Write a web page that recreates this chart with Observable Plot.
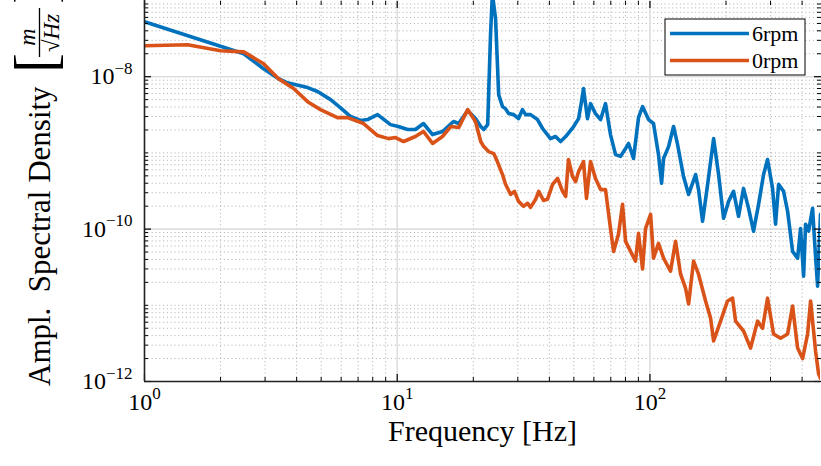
<!DOCTYPE html>
<html><head><meta charset="utf-8">
<script src="https://cdn.jsdelivr.net/npm/d3@7"></script>
<script src="https://cdn.jsdelivr.net/npm/@observablehq/plot@0.6"></script>
<style>body{margin:0;background:#fff} svg{display:block}</style>
</head><body><div id="chart"></div>
<script>
// ---- data ----
const seriesNames = ["6rpm", "0rpm"];
const seriesColors = ["#0072BD", "#D95319"];

const freq6rpm = [1.00, 2.47, 2.96, 3.39, 3.68, 4.42, 4.84, 5.45, 5.97, 6.54, 7.16, 7.63, 8.36, 9.41, 10.1, 11.0, 11.8, 12.7, 13.8, 15.1, 16.7, 17.5, 19.0, 20.4, 21.4, 22.0, 22.8, 23.4, 23.8, 24.5, 25.2, 26.1, 26.8, 27.6, 28.9, 30.2, 31.3, 32.2, 33.7, 35.9, 37.6, 40.4, 42.3, 44.3, 46.4, 49.9, 52.2, 53.6, 54.6, 56.6, 58.2, 60.9, 63.8, 66.7, 69.8, 73.1, 76.5, 80.1, 82.3, 86.1, 90.1, 93.5, 98.7, 103.3, 108.1, 111.2, 113.2, 118.5, 124.0, 128.6, 135.8, 142.2, 151.6, 155.7, 161.5, 169.1, 178.6, 186.9, 195.6, 204.7, 214.2, 224.2, 234.6, 245.6, 257.0, 269.0, 281.6, 292.0, 305.6, 314.1, 322.9, 337.9, 350.5, 366.8, 383.9, 394.5, 405.5, 412.9, 424.3, 440.1, 448.2, 460.6, 473];
const asd6rpm = [5.25e-8, 2.0e-8, 1.27e-8, 9.4e-9, 8.3e-9, 7.2e-9, 6.4e-9, 5.0e-9, 3.9e-9, 3.0e-9, 2.66e-9, 2.74e-9, 3.18e-9, 2.35e-9, 2.22e-9, 2.03e-9, 2.03e-9, 2.43e-9, 1.74e-9, 1.91e-9, 2.58e-9, 2.43e-9, 3.59e-9, 2.82e-9, 2.22e-9, 2.03e-9, 2.35e-9, 3.55e-8, 1.22e-7, 5.74e-8, 5.81e-9, 4.05e-9, 3.81e-9, 3.28e-9, 3.18e-9, 2.82e-9, 3.70e-9, 3.18e-9, 3.18e-9, 2.74e-9, 2.09e-9, 1.54e-9, 1.64e-9, 1.41e-9, 1.64e-9, 2.22e-9, 2.82e-9, 4.71e-9, 6.97e-9, 2.82e-9, 4.43e-9, 3.28e-9, 2.74e-9, 4.43e-9, 1.74e-9, 9.5e-10, 9.0e-10, 1.14e-9, 1.33e-9, 8.45e-10, 2.9e-9, 4.05e-9, 2.74e-9, 2.43e-9, 9.5e-10, 4.0e-10, 8.45e-10, 1.21e-9, 2.22e-9, 1.29e-9, 4.9e-10, 2.85e-10, 5.2e-10, 3.3e-10, 1.27e-10, 3.86e-10, 1.54e-9, 5.2e-10, 1.39e-10, 2.31e-10, 3.13e-10, 1.47e-10, 3.42e-10, 1.87e-10, 9.4e-11, 2.11e-10, 5.2e-10, 8.2e-10, 3.42e-10, 1.16e-10, 3.86e-10, 3.13e-10, 1.71e-10, 5.1e-11, 4.15e-11, 1.02e-10, 2.41e-11, 1.16e-10, 9.4e-11, 1.87e-10, 6.9e-11, 1.78e-11, 1.56e-10];

const freq0rpm = [1.00, 1.48, 2.00, 2.47, 2.96, 3.39, 3.89, 4.42, 4.97, 5.80, 6.36, 7.36, 8.36, 9.24, 9.85, 10.6, 11.8, 12.7, 13.8, 15.1, 16.3, 17.5, 19.0, 20.4, 21.4, 22.0, 23.0, 24.1, 24.9, 26.1, 26.8, 28.1, 29.1, 30.2, 31.6, 32.8, 33.7, 35.3, 36.3, 37.9, 39.3, 41.2, 43.1, 45.1, 46.4, 47.6, 49.4, 50.8, 52.2, 54.6, 56.1, 58.2, 60.9, 63.8, 66.7, 69.8, 71.8, 75.1, 77.9, 80.1, 83.8, 87.7, 90.1, 93.5, 96.1, 100.6, 103.3, 108.1, 113.2, 120.6, 126.3, 132.2, 138.3, 142.2, 148.8, 155.7, 166.0, 173.7, 178.6, 190.3, 202.8, 212.3, 218.2, 234.6, 250.1, 266.6, 279.0, 292.0, 308.4, 328.7, 350.5, 366.8, 383.9, 401.8, 420.6, 432.2, 452.3, 464.8, 473];
const asd0rpm = [2.55e-8, 2.62e-8, 2.19e-8, 2.12e-8, 1.48e-8, 9.4e-9, 7.0e-9, 4.7e-9, 3.7e-9, 2.9e-9, 2.9e-9, 2.43e-9, 1.69e-9, 1.54e-9, 1.59e-9, 1.41e-9, 1.64e-9, 1.91e-9, 1.33e-9, 1.64e-9, 2.22e-9, 2.15e-9, 3.7e-9, 2.58e-9, 1.41e-9, 1.21e-9, 1.04e-9, 9.8e-10, 7.7e-10, 5.2e-10, 3.9e-10, 2.85e-10, 3.13e-10, 2.31e-10, 1.99e-10, 2.18e-10, 1.93e-10, 2.46e-10, 3.13e-10, 2.38e-10, 2.46e-10, 3.86e-10, 4.62e-10, 3.13e-10, 2.69e-10, 8.2e-10, 4.9e-10, 4.2e-10, 5.7e-10, 7.7e-10, 2.53e-10, 7.7e-10, 4.6e-10, 3.3e-10, 3.3e-10, 1.02e-10, 5.1e-11, 8.6e-11, 2.11e-10, 6.9e-11, 5.1e-11, 3.8e-11, 8.8e-11, 3.0e-11, 1.02e-10, 1.56e-10, 4.15e-11, 6.5e-11, 4.15e-11, 2.8e-11, 6.9e-11, 2.56e-11, 1.68e-11, 1.04e-11, 3.8e-11, 2.56e-11, 1.14e-11, 6.8e-12, 3.4e-12, 6.2e-12, 1.14e-11, 1.24e-11, 6.2e-12, 4.6e-12, 2.75e-12, 6.2e-12, 5.0e-12, 1.24e-11, 4.2e-12, 3.7e-12, 4.2e-12, 9.8e-12, 2.75e-12, 2.0e-12, 4.2e-12, 1.14e-11, 2.5e-12, 1.26e-12, 1.1e-12];

const xDomain = [1, 473];
const yDomain = [1e-12, 1e-7];
const xMajorTicks = [1, 10, 100];
const yMajorTicks = [1e-12, 1e-10, 1e-8];
const xLabel = "Frequency [Hz]";
const yLabel = "Ampl.\u00A0\u00A0Spectral Density";
const FONT = "'Liberation Serif', 'DejaVu Serif', serif";

// ---- build tables ----
const rows = [
  ...freq6rpm.map((f, i) => ({f, v: asd6rpm[i], s: seriesNames[0]})),
  ...freq0rpm.map((f, i) => ({f, v: asd0rpm[i], s: seriesNames[1]}))
];
const xMinor = [];
for (const e of [0, 1, 2]) for (let m = 2; m <= 9; m++) { const v = m * 10 ** e; if (v <= xDomain[1]) xMinor.push(v); }
const yMinor = [];
for (let e = -12; e <= -8; e++) for (let m = 1; m <= 9; m++) {
  const v = m * Math.pow(10, e);
  if (v > yDomain[1] * 1.0001) continue;
  if (m === 1 && (e === -12 || e === -10 || e === -8)) continue;
  yMinor.push(v);
}
const supFmt = d => "10^" + String(Math.round(Math.log10(d))).replace("-", "\u2212");
const blank = () => "";

const minorGrid = {stroke: "#b8b8b8", strokeOpacity: 1, strokeWidth: 1, strokeDasharray: "1.2,2.6"};
const majorGrid = {stroke: "#dedede", strokeOpacity: 1, strokeWidth: 1.6};

const svg = Plot.plot({
  width: 821, height: 466,
  marginLeft: 144, marginRight: 1, marginTop: 0, marginBottom: 85,
  x: {type: "log", domain: xDomain, label: null},
  y: {type: "log", domain: yDomain, label: null},
  color: {domain: seriesNames, range: seriesColors},
  style: {fontFamily: FONT, fontSize: "24px", background: "white", color: "black"},
  marks: [
    Plot.gridX(xMinor, minorGrid),
    Plot.gridY(yMinor, minorGrid),
    Plot.gridX([10, 100], majorGrid),
    Plot.gridY([1e-10, 1e-8], majorGrid),
    Plot.line(rows, {x: "f", y: "v", z: "s", stroke: "s", strokeWidth: 3.6, strokeLinejoin: "round", clip: true}),
    // inward tick marks (box style)
    Plot.axisX(xMinor, {anchor: "bottom", tickSize: -4, tickFormat: blank, label: null, strokeWidth: 1}),
    Plot.axisX(xMajorTicks, {anchor: "bottom", tickSize: -7, tickFormat: blank, label: null, strokeWidth: 1.2}),
    Plot.axisX(xMinor, {anchor: "top", tickSize: -4, tickFormat: blank, label: null}),
    Plot.axisX(xMajorTicks, {anchor: "top", tickSize: -7, tickFormat: blank, label: null, strokeWidth: 1.2}),
    Plot.axisY(yMinor, {anchor: "left", tickSize: -4, tickFormat: blank, label: null}),
    Plot.axisY(yMajorTicks, {anchor: "left", tickSize: -7, tickFormat: blank, label: null, strokeWidth: 1.2}),
    Plot.axisY(yMinor, {anchor: "right", tickSize: -4, tickFormat: blank, label: null}),
    Plot.axisY(yMajorTicks, {anchor: "right", tickSize: -7, tickFormat: blank, label: null, strokeWidth: 1.2}),
    // tick labels
    Plot.axisX(xMajorTicks, {anchor: "bottom", tickSize: 0, tickPadding: 11, tickFormat: supFmt, label: null, fontSize: 24}),
    Plot.axisY(yMajorTicks, {anchor: "left", tickSize: 0, tickPadding: 12, tickFormat: supFmt, label: null, fontSize: 24}),
    // axis lines
    Plot.ruleX([xDomain[0]], {stroke: "#222", strokeWidth: 1.6}),
    Plot.ruleY([yDomain[0]], {stroke: "#222", strokeWidth: 1.6}),
    // x label
    Plot.text([xLabel], {frameAnchor: "bottom", text: d => d, dy: 59, fontSize: 30})
  ]
});

// superscripts for 10^n labels
d3.select(svg).selectAll('g[aria-label="x-axis tick label"] text, g[aria-label="y-axis tick label"] text').each(function () {
  const t = this.textContent;
  if (!t.includes("^")) return;
  const [base, exp] = t.split("^");
  this.textContent = "";
  const s = d3.select(this);
  s.append("tspan").text(base);
  s.append("tspan").attr("dy", "-0.62em").attr("font-size", "17px").text(exp);
});

// y label with unit fraction
const root = d3.select(svg);
const g = root.append("g").attr("transform", "translate(50,386) rotate(-90)")
  .attr("font-family", FONT).attr("fill", "black").attr("text-anchor", "start");
g.append("text").attr("x", 0).attr("y", 0).attr("font-size", 31).text(yLabel);
g.append("text").attr("x", 313).attr("y", 5).attr("font-size", 60).attr("font-weight", 300).text("[");
g.append("text").attr("x", 349).attr("y", -15).attr("font-size", 24).attr("font-style", "italic").attr("text-anchor", "middle").text("m");
g.append("line").attr("x1", 329).attr("x2", 378).attr("y1", -10.5).attr("y2", -10.5).attr("stroke", "black").attr("stroke-width", 1.3);
const den = g.append("text").attr("x", 353).attr("y", 9).attr("font-size", 23).attr("text-anchor", "middle");
den.append("tspan").text("\u221A");
den.append("tspan").attr("font-style", "italic").text("Hz");
g.append("text").attr("x", 382).attr("y", 5).attr("font-size", 60).attr("font-weight", 300).text("]");

// legend
const lg = root.append("g").attr("font-family", FONT).attr("text-anchor", "start");
lg.append("rect").attr("x", 665).attr("y", 19).attr("width", 140).attr("height", 56)
  .attr("fill", "white").attr("stroke", "black").attr("stroke-width", 1);
seriesNames.forEach((name, i) => {
  const yy = 33.5 + i * 27;
  lg.append("line").attr("x1", 670).attr("x2", 749).attr("y1", yy).attr("y2", yy)
    .attr("stroke", seriesColors[i]).attr("stroke-width", 3.4);
  lg.append("text").attr("x", 752).attr("y", yy + 7.5).attr("font-size", 22).attr("fill", "black").text(name);
});

document.getElementById("chart").appendChild(svg);
</script>
</body></html>
